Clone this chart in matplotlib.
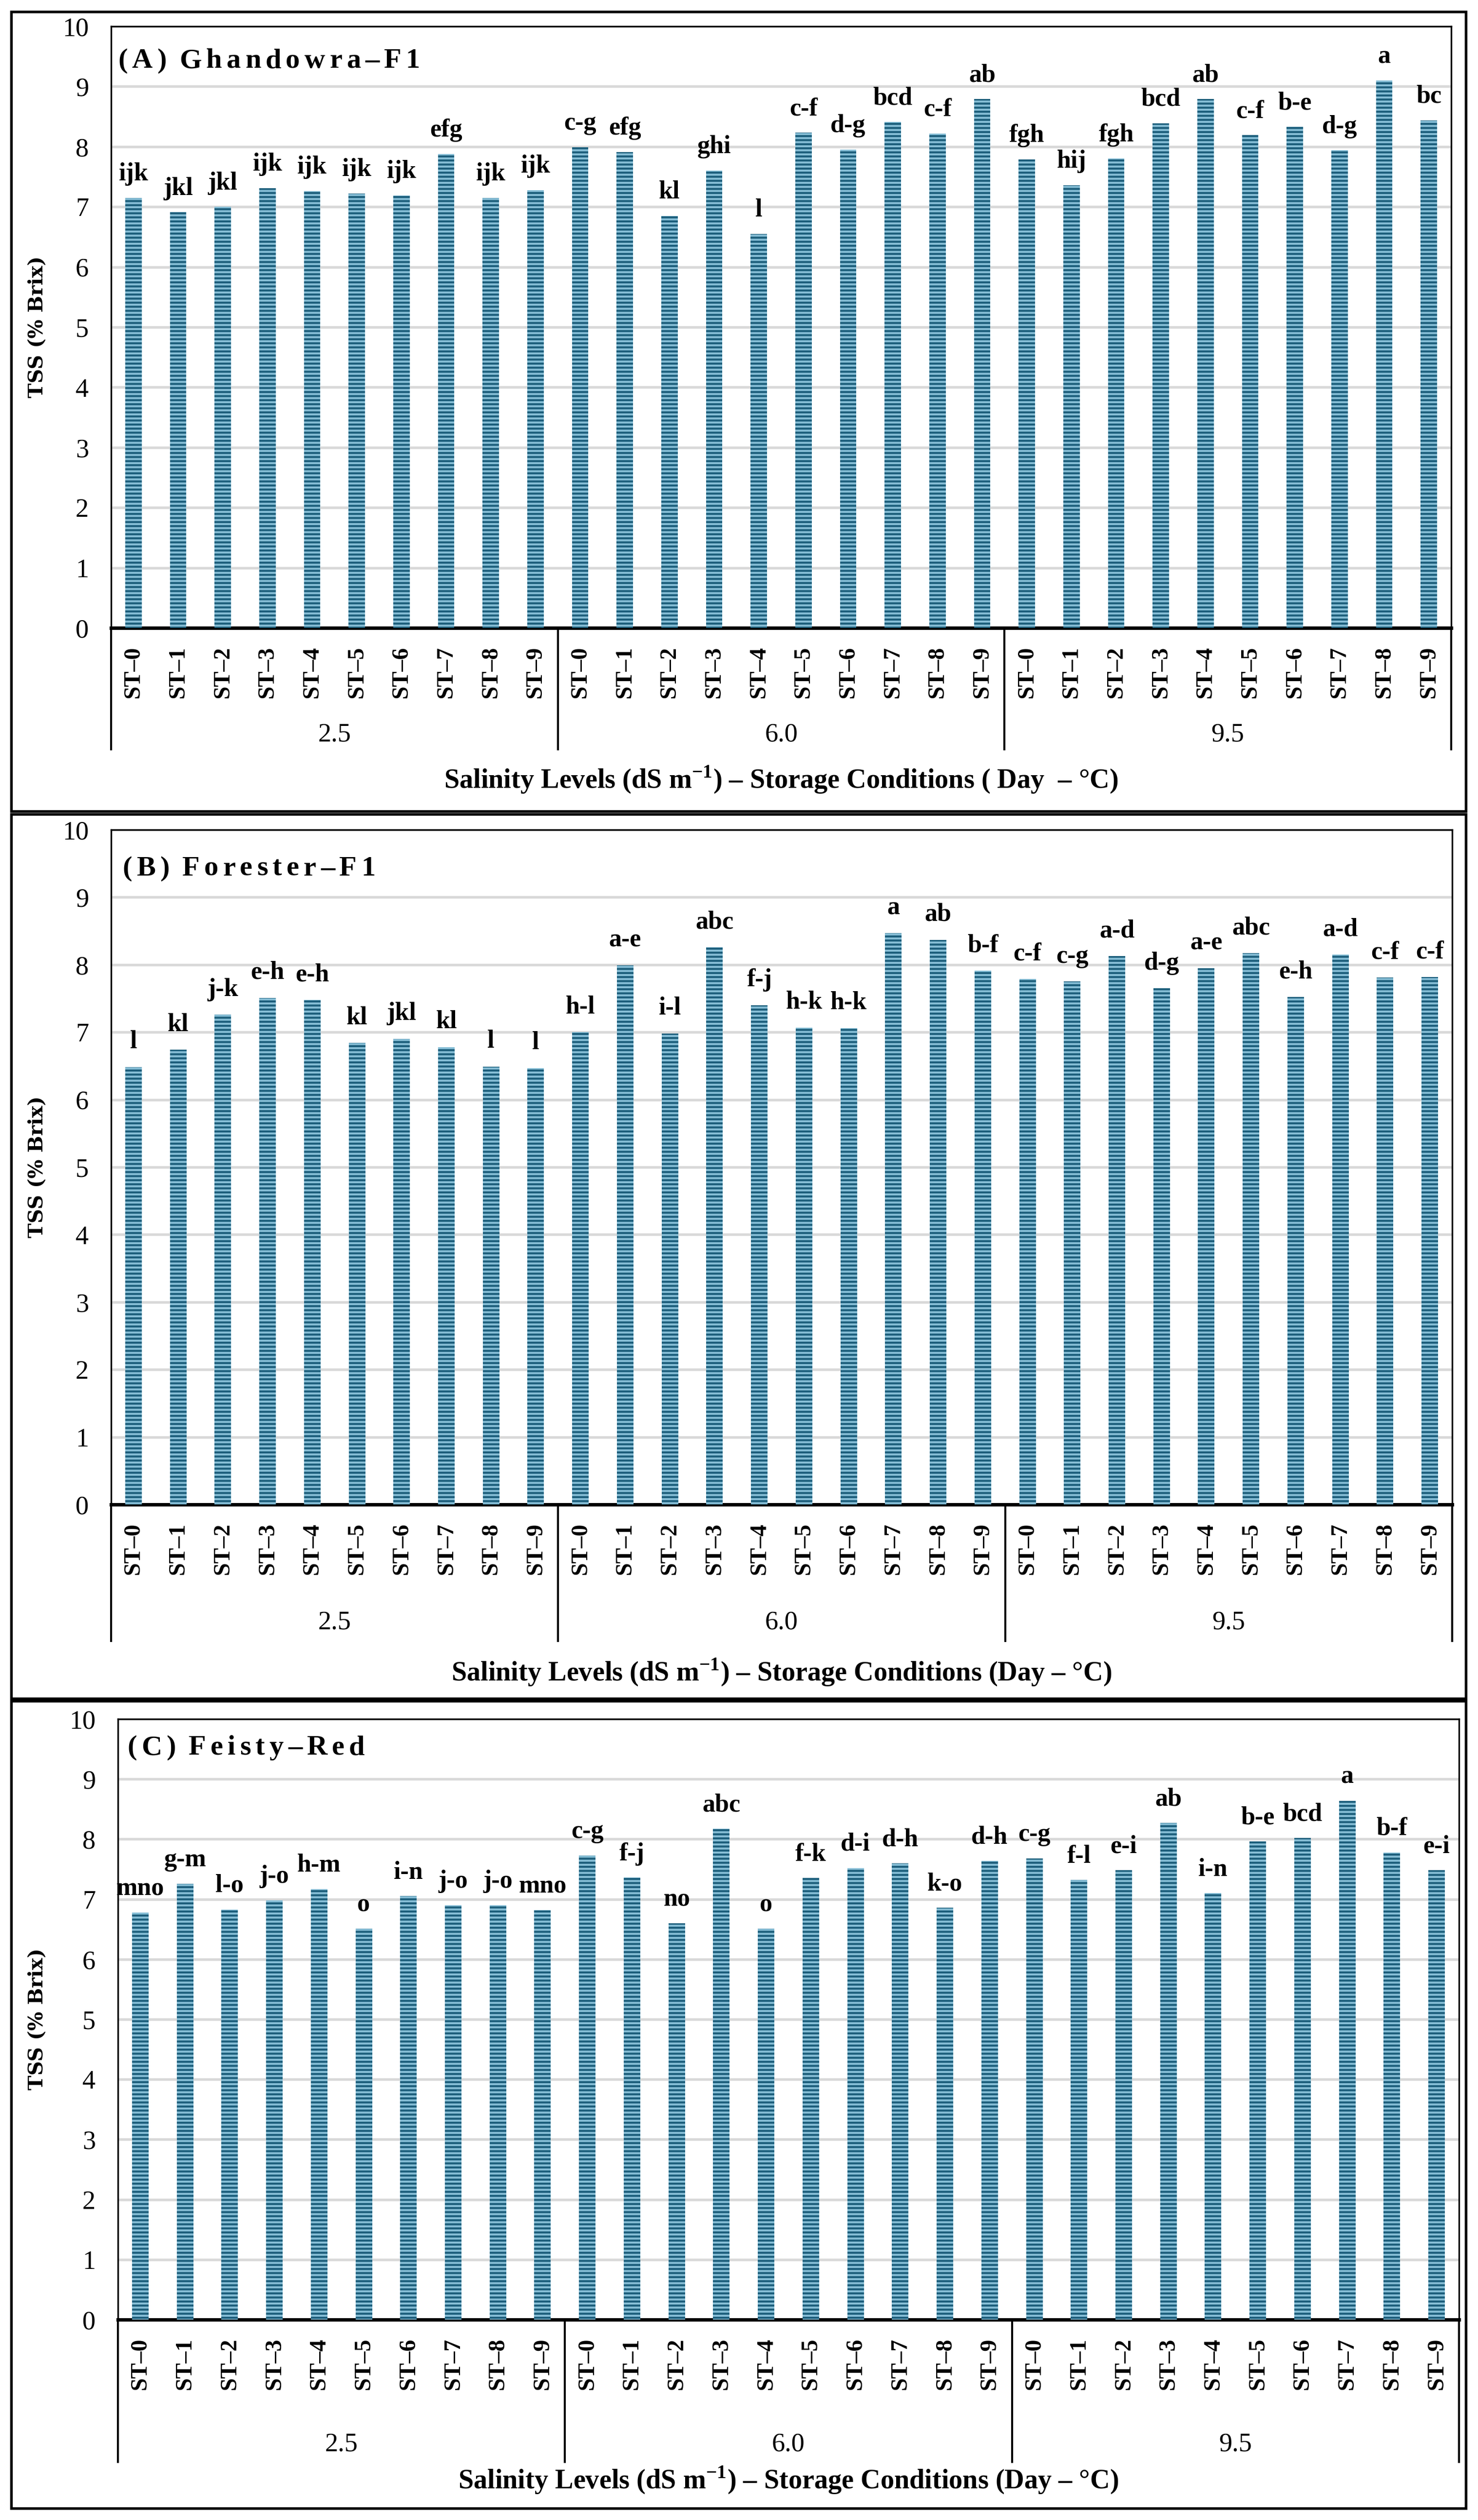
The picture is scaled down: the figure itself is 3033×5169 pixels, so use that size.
import matplotlib
matplotlib.use("Agg")
import matplotlib.pyplot as plt
from matplotlib.patches import Rectangle

# === DATA ===
st_labels = ["ST–0", "ST–1", "ST–2", "ST–3", "ST–4", "ST–5", "ST–6", "ST–7", "ST–8", "ST–9"] * 3
salinity = ["2.5", "6.0", "9.5"]

tss_a = [7.15, 6.91, 7.00, 7.31, 7.26, 7.22, 7.19, 7.88, 7.15, 7.28,
         7.99, 7.91, 6.85, 7.60, 6.55, 8.23, 7.95, 8.41, 8.22, 8.79,
         7.79, 7.36, 7.80, 8.39, 8.79, 8.19, 8.33, 7.94, 9.10, 8.44]
sig_a = ["ijk", "jkl", "jkl", "ijk", "ijk", "ijk", "ijk", "efg", "ijk", "ijk",
         "c-g", "efg", "kl", "ghi", "l", "c-f", "d-g", "bcd", "c-f", "ab",
         "fgh", "hij", "fgh", "bcd", "ab", "c-f", "b-e", "d-g", "a", "bc"]

tss_b = [6.48, 6.74, 7.26, 7.51, 7.48, 6.84, 6.90, 6.78, 6.49, 6.47,
         7.00, 7.99, 6.98, 8.26, 7.40, 7.07, 7.06, 8.47, 8.37, 7.91,
         7.79, 7.75, 8.13, 7.65, 7.95, 8.17, 7.52, 8.15, 7.81, 7.82]
sig_b = ["l", "kl", "j-k", "e-h", "e-h", "kl", "jkl", "kl", "l", "l",
         "h-l", "a-e", "i-l", "abc", "f-j", "h-k", "h-k", "a", "ab", "b-f",
         "c-f", "c-g", "a-d", "d-g", "a-e", "abc", "e-h", "a-d", "c-f", "c-f"]

tss_c = [6.78, 7.26, 6.83, 6.98, 7.17, 6.51, 7.05, 6.90, 6.90, 6.82,
         7.73, 7.36, 6.60, 8.17, 6.51, 7.35, 7.52, 7.60, 6.86, 7.64,
         7.68, 7.32, 7.48, 8.27, 7.10, 7.96, 8.02, 8.64, 7.78, 7.48]
sig_c = ["mno", "g-m", "l-o", "j-o", "h-m", "o", "i-n", "j-o", "j-o", "mno",
         "c-g", "f-j", "no", "abc", "o", "f-k", "d-i", "d-h", "k-o", "d-h",
         "c-g", "f-l", "e-i", "ab", "i-n", "b-e", "bcd", "a", "b-f", "e-i"]

titles = ["(A) Ghandowra–F1", "(B) Forester–F1", "(C) Feisty–Red"]
xlabels = [r"Salinity Levels (dS m$^{\mathbf{-1}}$) – Storage Conditions ( Day  – °C)",
           r"Salinity Levels (dS m$^{\mathbf{-1}}$) – Storage Conditions (Day – °C)",
           r"Salinity Levels (dS m$^{\mathbf{-1}}$) – Storage Conditions (Day – °C)"]

# === STYLE ===
W, H, DPI = 3033, 5169, 300
DARK = "#1c5e7b"
LIGHT = "#86bed6"

plt.rcParams["font.family"] = ["Liberation Serif", "DejaVu Serif"]
plt.rcParams["mathtext.fontset"] = "custom"
plt.rcParams["mathtext.rm"] = "Liberation Serif"
plt.rcParams["mathtext.bf"] = "Liberation Serif:bold"
plt.rcParams["hatch.linewidth"] = 1.0

fig = plt.figure(figsize=(W / DPI, H / DPI), dpi=DPI, facecolor="white")

# panel layout in pixels: outer box, plot area, title centre, offsets below the axis
panels = [
    dict(box=(24, 1664), ax=(228, 54, 2978, 1288), title=(242, 119),
         grp=219, line=249, xlab=311),
    dict(box=(1670, 3484), ax=(228, 1702, 2980, 3086), title=(251, 1776),
         grp=242, line=280, xlab=344),
    dict(box=(3489, 5145), ax=(242, 3526, 2994, 4758), title=(261, 3579),
         grp=256, line=292, xlab=329),
]
series = [(tss_a, sig_a), (tss_b, sig_b), (tss_c, sig_c)]


def spaced_text(ax, x, y, s, size, gap):
    # letter spaced title, each glyph placed after the previous one
    t = ax.text(x, y, s[0], transform=ax.transAxes, fontsize=size,
                fontweight="bold", ha="left", va="bottom")
    extra = 0
    for ch in s[1:]:
        if ch == " ":
            extra += size * 0.3
            continue
        t = ax.annotate(ch, xy=(1, 0), xycoords=t, xytext=(gap + extra, 0),
                        textcoords="offset points", fontsize=size,
                        fontweight="bold", ha="left", va="bottom")
        extra = 0


for p, (vals, sigs), title, xlab in zip(panels, series, titles, xlabels):
    b_top, b_bot = p["box"]
    fig.add_artist(Rectangle((23 / W, 1 - b_bot / H), (3008 - 23) / W, (b_bot - b_top) / H,
                             transform=fig.transFigure, fill=False,
                             edgecolor="black", lw=1.3))

    l, t, r, b = p["ax"]
    ax_h = b - t
    ax = fig.add_axes([l / W, 1 - b / H, (r - l) / W, ax_h / H])
    x = list(range(len(vals)))
    ax.bar(x, vals, width=0.37, color=LIGHT, edgecolor=DARK, linewidth=0,
           hatch="------", zorder=3)
    for xi, v, s in zip(x, vals, sigs):
        ax.text(xi, v + 0.2, s, ha="center", va="bottom", fontsize=12.5,
                fontweight="bold", zorder=4)

    ax.set_xlim(-0.5, len(vals) - 0.5)
    ax.set_ylim(0, 10)
    ax.set_yticks(range(0, 11))
    ax.yaxis.grid(True, color="#d9d9d9", lw=1.3, zorder=0)
    ax.set_axisbelow(True)
    ax.tick_params(axis="y", length=0, pad=11, labelsize=13)
    ax.set_xticks(x)
    ax.set_xticklabels(st_labels, rotation=90, fontsize=11.5, fontweight="bold")
    ax.tick_params(axis="x", length=0, pad=9)
    for sp in ["top", "left", "right"]:
        ax.spines[sp].set_linewidth(0.8)
    ax.spines["bottom"].set_linewidth(1.7)

    # multi-level category axis: group dividers and salinity labels
    y_line = -p["line"] / ax_h
    for gx in [-0.5, 9.5, 19.5, 29.5]:
        ax.plot([gx, gx], [0, y_line], color="black", lw=1.0,
                transform=ax.get_xaxis_transform(), clip_on=False)
    for gi, g in enumerate(salinity):
        ax.text(gi * 10 + 4.5, -p["grp"] / ax_h, g, ha="center", va="center",
                fontsize=13, transform=ax.get_xaxis_transform())
    ax.text(0.5, -p["xlab"] / ax_h, xlab, ha="center", va="center",
            fontsize=13.5, fontweight="bold", transform=ax.transAxes)

    fig.text(77 / W, 1 - (t + b) / 2 / H, "TSS (% Brix)", rotation=90,
             ha="center", va="center", fontsize=9.8, fontweight="bold",
             family="DejaVu Serif")

    tx, ty = p["title"]
    spaced_text(ax, (tx - l) / (r - l), 1 - (ty - t + 32) / ax_h, title, 14, 2.2)

fig.savefig("out.png", dpi=DPI, facecolor="white")
